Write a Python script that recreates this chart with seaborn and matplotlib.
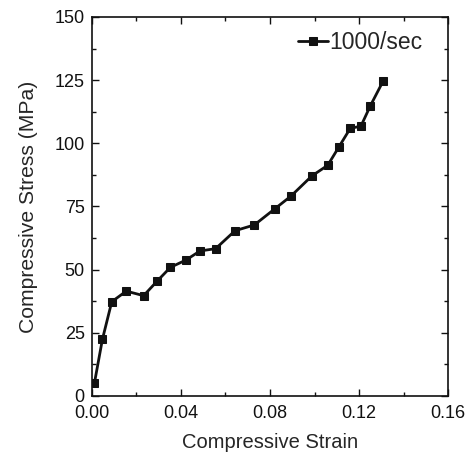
import matplotlib
matplotlib.use("Agg")
import matplotlib.pyplot as plt
import seaborn as sns
import pandas as pd
from matplotlib.ticker import MultipleLocator

strain = [0.0012, 0.0048, 0.0090, 0.0155, 0.0233, 0.0294, 0.0353, 0.0423, 0.0486,
          0.0556, 0.0643, 0.0730, 0.0822, 0.0894, 0.0988, 0.1059, 0.1108, 0.1160,
          0.1208, 0.1250, 0.1308]
stress = [5.0, 22.4, 37.3, 41.5, 39.7, 45.5, 50.9, 53.8, 57.4,
          58.3, 65.4, 67.7, 74.1, 79.1, 87.1, 91.3, 98.4, 105.9,
          106.8, 114.8, 124.7]
series_label = "1000/sec"

sns.set_style("ticks")
plt.rcParams['font.family'] = ['Liberation Sans', 'DejaVu Sans']

df = pd.DataFrame({"strain": strain, "stress": stress, "series": series_label})

fig = plt.figure(figsize=(4.71, 4.54), dpi=100)
ax = fig.add_axes([0.1947, 0.1278, 0.7571, 0.8348])
sns.lineplot(data=df, x="strain", y="stress", hue="series", palette=["#111111"],
             marker="s", markersize=6, markeredgecolor="#111111", linewidth=2.0,
             sort=False, ax=ax)

ax.set_xlim(0, 0.16)
ax.set_ylim(0, 150)
ax.xaxis.set_major_locator(MultipleLocator(0.04))
ax.xaxis.set_minor_locator(MultipleLocator(0.02))
ax.yaxis.set_major_locator(MultipleLocator(25))
ax.yaxis.set_minor_locator(MultipleLocator(12.5))
ax.xaxis.set_major_formatter(matplotlib.ticker.FormatStrFormatter('%.2f'))
ax.tick_params(which='both', direction='in', top=True, right=True, labelsize=13,
               width=1, colors='#111111')
ax.tick_params(axis='y', which='both', pad=5)
ax.tick_params(axis='x', which='both', pad=6.5)
ax.tick_params(which='major', length=5)
ax.tick_params(which='minor', length=3)
for s in ax.spines.values():
    s.set_linewidth(1.2)
    s.set_color('#111111')
ax.set_xlabel("Compressive Strain", fontsize=14.5, labelpad=8)
ax.set_ylabel("Compressive Stress (MPa)", fontsize=15.2, labelpad=12)

ax.legend(loc='upper right', bbox_to_anchor=(0.9655, 1.0), frameon=False,
          fontsize=16.5, handlelength=1.3, handletextpad=0.05, borderaxespad=0.2)

fig.savefig("out.png", dpi=100)
